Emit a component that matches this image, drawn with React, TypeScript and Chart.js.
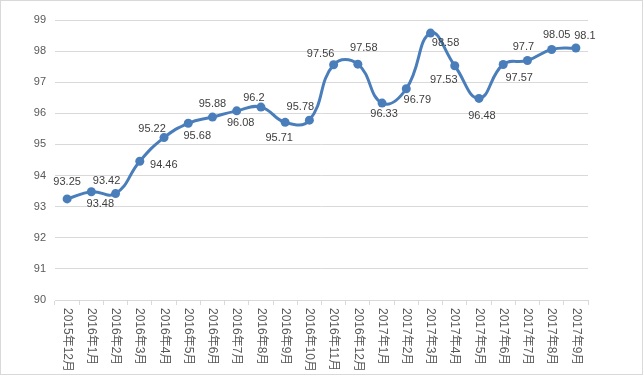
import React, { useEffect, useRef } from "react";
import { Chart, registerables } from "chart.js";

Chart.register(...registerables);

const categories = [
  "2015年12月", "2016年1月", "2016年2月", "2016年3月", "2016年4月", "2016年5月",
  "2016年6月", "2016年7月", "2016年8月", "2016年9月", "2016年10月", "2016年11月",
  "2016年12月", "2017年1月", "2017年2月", "2017年3月", "2017年4月", "2017年5月",
  "2017年6月", "2017年7月", "2017年8月", "2017年9月",
];

const values = [
  93.25, 93.48, 93.42, 94.46, 95.22, 95.68, 95.88, 96.08, 96.2, 95.71, 95.78,
  97.56, 97.58, 96.33, 96.79, 98.58, 97.53, 96.48, 97.57, 97.7, 98.05, 98.1,
];

const yMin = 90;
const yMax = 99;
const yStep = 1;

// label offsets relative to each point (layout only)
const labelOffsets: [number, number][] = [
  [0, -17], [9, 12], [-9, -13], [24, 4], [-12, -9], [9, 13], [0, -13], [4, 12],
  [-7, -9], [-6, 16], [-9, -13], [-13, -11], [6, -16], [2, 11], [11, 11], [15, 10],
  [-11, 14], [3, 18], [16, 13], [-4, -13], [5, -15], [9, -12],
];

const LINE_COLOR = "#4a7ebb";
const FONT = '"Liberation Sans", "Noto Sans CJK SC", sans-serif';

const labelPlugin = {
  id: "pointLabels",
  afterDatasetsDraw(chart: any) {
    const meta = chart.getDatasetMeta(0);
    const ctx = chart.ctx;
    ctx.save();
    ctx.font = `11px ${FONT}`;
    ctx.fillStyle = "#404040";
    ctx.textAlign = "center";
    ctx.textBaseline = "middle";
    meta.data.forEach((pt: any, i: number) => {
      const [dx, dy] = labelOffsets[i] || [0, -14];
      ctx.fillText(String(values[i]), pt.x + dx, pt.y + dy);
    });
    ctx.restore();
  },
};

const xLabelPlugin = {
  id: "xLabels",
  afterDraw(chart: any) {
    const xs = chart.scales.x;
    const ctx = chart.ctx;
    ctx.save();
    ctx.font = `12px ${FONT}`;
    ctx.fillStyle = "#595959";
    ctx.textAlign = "left";
    ctx.textBaseline = "middle";
    categories.forEach((c, i) => {
      const x = xs.getPixelForValue(i);
      ctx.save();
      ctx.translate(x, chart.chartArea.bottom + 8);
      ctx.rotate(Math.PI / 2);
      ctx.fillText(c, 0, 0);
      ctx.restore();
    });
    ctx.restore();
  },
};

export default function App() {
  const ref = useRef<HTMLCanvasElement | null>(null);
  useEffect(() => {
    if (!ref.current) return;
    const chart = new Chart(ref.current, {
      type: "line",
      data: {
        labels: categories,
        datasets: [
          {
            data: values,
            borderColor: LINE_COLOR,
            backgroundColor: LINE_COLOR,
            borderWidth: 3,
            pointRadius: 4.5,
            pointBackgroundColor: LINE_COLOR,
            pointBorderColor: LINE_COLOR,
            pointBorderWidth: 0,
            tension: 0.45,
            fill: false,
          },
        ],
      },
      options: {
        animation: false,
        responsive: false,
        layout: { padding: { top: 20, right: 55, left: 0, bottom: 0 } },
        plugins: { legend: { display: false }, tooltip: { enabled: false } },
        scales: {
          x: {
            offset: true,
            grid: {
              offset: true,
              drawOnChartArea: false,
              drawTicks: true,
              tickLength: 5,
              color: "#d9d9d9",
            },
            border: { color: "#d9d9d9" },
            ticks: { display: false },
            afterFit(scale: any) {
              scale.height = 75;
            },
          },
          y: {
            min: yMin,
            max: yMax,
            ticks: {
              stepSize: yStep,
              color: "#595959",
              font: { size: 11, family: FONT },
              padding: 9,
            },
            grid: { color: "#d9d9d9", drawTicks: false },
            border: { display: false },
            afterFit(scale: any) {
              scale.width = 55;
            },
          },
        },
      },
      plugins: [labelPlugin, xLabelPlugin],
    });
    return () => chart.destroy();
  }, []);
  return (
    <div style={{ position: "fixed", left: 0, top: 0, width: 643, height: 375, background: "#fff" }}>
      <canvas ref={ref} width={643} height={375} style={{ display: "block" }} />
      <div
        style={{
          position: "absolute",
          left: 0,
          top: 0,
          width: 643,
          height: 375,
          boxSizing: "border-box",
          border: "1px solid #d9d9d9",
          pointerEvents: "none",
        }}
      />
    </div>
  );
}
